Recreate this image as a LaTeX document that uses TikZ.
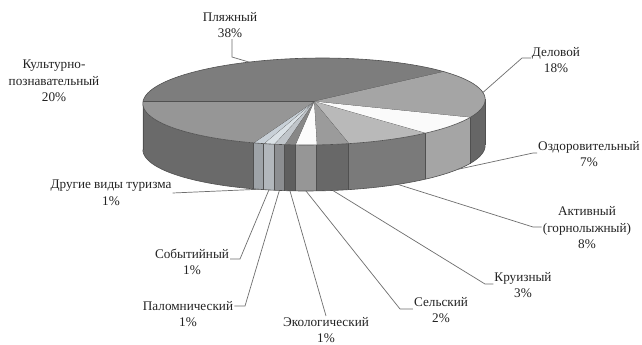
\documentclass[tikz,border=0pt]{standalone}
\usepackage{tikz}
\usepackage{fontspec}
\setmainfont{Liberation Serif}
\pgfmathdeclarefunction{px}{1}{\pgfmathparse{314+171*cos(#1)+8*sin(#1)}}
\pgfmathdeclarefunction{py}{1}{\pgfmathparse{-101.5+43.5*sin(#1)}}
\def\dep{46}
% slice colours
\definecolor{tPl}{RGB}{125,125,125}
\definecolor{tDe}{RGB}{165,165,165}
\definecolor{tOz}{RGB}{250,250,250}
\definecolor{tAk}{RGB}{185,185,185}
\definecolor{tKr}{RGB}{155,155,155}
\definecolor{tSe}{RGB}{252,252,252}
\definecolor{tEk}{RGB}{135,135,135}
\definecolor{tPa}{RGB}{192,197,202}
\definecolor{tSo}{RGB}{218,225,230}
\definecolor{tDr}{RGB}{200,208,215}
\definecolor{tKu}{RGB}{150,150,150}
\definecolor{sDe}{RGB}{102,102,102}
\definecolor{sOz}{RGB}{165,165,165}
\definecolor{sAk}{RGB}{122,122,122}
\definecolor{sKr}{RGB}{104,104,104}
\definecolor{sSe}{RGB}{150,150,150}
\definecolor{sEk}{RGB}{95,95,95}
\definecolor{sPa}{RGB}{140,142,145}
\definecolor{sSo}{RGB}{178,183,188}
\definecolor{sDr}{RGB}{158,163,168}
\definecolor{sKu}{RGB}{106,106,106}
\definecolor{edge}{RGB}{80,80,80}
\definecolor{leadc}{RGB}{110,110,110}
\definecolor{txt}{RGB}{35,35,35}
\newcommand{\topslice}[3]{%
  \fill[#3] (314,-101.5) -- plot[domain=#1:#2,samples=40,variable=\q] ({px(\q)},{py(\q)}) -- cycle;
  \draw[pieedge] (314,-101.5) -- ({px(#1)},{py(#1)});}
\newcommand{\sideslice}[3]{%
  \fill[#3] plot[domain=#1:#2,samples=30,variable=\q] ({px(\q)},{py(\q)}) -- plot[domain=#2:#1,samples=30,variable=\q] ({px(\q)},{py(\q)-\dep}) -- cycle;
  \draw[pieedge] ({px(#1)},{py(#1)}) -- ({px(#1)},{py(#1)-\dep});}
\begin{document}
\begin{tikzpicture}[x=1pt,y=1pt,
  pieedge/.style={draw=edge,line width=0.6pt},
  lead/.style={draw=leadc,line width=0.7pt},
  lab/.style={align=center,text=txt,inner sep=1pt,font=\fontsize{13.2}{16.5}\selectfont}]
\useasboundingbox[fill=white] (0,0) rectangle (642,-345);
% side faces
\sideslice{-177.32}{-108}{sKu}
\sideslice{-108}{-104.4}{sDr}
\sideslice{-104.4}{-100.8}{sSo}
\sideslice{-100.8}{-97.2}{sPa}
\sideslice{-97.2}{-93.6}{sEk}
\sideslice{-93.6}{-86.4}{sSe}
\sideslice{-86.4}{-75.6}{sKr}
\sideslice{-75.6}{-46.8}{sAk}
\sideslice{-46.8}{-21.6}{sOz}
\sideslice{-21.6}{2.68}{sDe}
\draw[pieedge] ({px(2.68)},{py(2.68)}) -- ({px(2.68)},{py(2.68)-\dep});
\draw[pieedge] plot[domain=-177.32:2.68,samples=80,variable=\q] ({px(\q)},{py(\q)-\dep});
% top faces
\topslice{43.2}{180}{tPl}
\topslice{-21.6}{43.2}{tDe}
\topslice{-46.8}{-21.6}{tOz}
\topslice{-75.6}{-46.8}{tAk}
\topslice{-86.4}{-75.6}{tKr}
\topslice{-93.6}{-86.4}{tSe}
\topslice{-97.2}{-93.6}{tEk}
\topslice{-100.8}{-97.2}{tPa}
\topslice{-104.4}{-100.8}{tSo}
\topslice{-108}{-104.4}{tDr}
\topslice{-180}{-108}{tKu}
\draw[pieedge] plot[domain=0:360,samples=120,variable=\q] ({px(\q)},{py(\q)});
% labels
\node[lab] (lP) at (230,-25) {Пляжный\\38\%};
\node[lab] (lK) at (54,-81) {Культурно-\\познавательный\\20\%};
\node[lab] (lD) at (556,-60) {Деловой\\18\%};
\node[lab] (lO) at (589,-154) {Оздоровительный\\7\%};
\node[lab] (lA) at (587,-228) {Активный\\(горнолыжный)\\8\%};
\node[lab] (lKr) at (523,-285) {Круизный\\3\%};
\node[lab] (lS) at (441,-310) {Сельский\\2\%};
\node[lab] (lE) at (326,-330) {Экологический\\1\%};
\node[lab] (lPa) at (188,-314) {Паломнический\\1\%};
\node[lab] (lSo) at (192,-262) {Событийный\\1\%};
\node[lab] (lDr) at (111,-193) {Другие виды туризма\\1\%};
% leader anchor points
\coordinate (sP) at ({px(115)},{py(115)});
\coordinate (eP) at (232,-57);
\coordinate (sD) at ({px(12)},{py(12)});
\coordinate (eD) at (522,-58);
\coordinate (sO) at ({px(-30)},{py(-30)-\dep});
\coordinate (eO) at (533,-153);
\coordinate (sA) at ({px(-58)},{py(-58)-\dep});
\coordinate (eA) at (533,-227);
\coordinate (sKr) at ({px(-81)},{py(-81)-\dep});
\coordinate (eKr) at (485,-284);
\coordinate (sS) at ({px(-90)},{py(-90)-\dep});
\coordinate (eS) at (400,-309);
\coordinate (sE) at ({px(-95.4)},{py(-95.4)-\dep});
\coordinate (sPa) at ({px(-99)},{py(-99)-\dep});
\coordinate (ePa) at (245,-306);
\coordinate (sSo) at ({px(-102.6)},{py(-102.6)-\dep});
\coordinate (eSo) at (240,-259);
\coordinate (sDr) at ({px(-106.2)},{py(-106.2)-\dep});
% leaders
\draw[lead] (sP) -- (eP) -- (eP |- lP.south);
\draw[lead] (sD) -- (eD) -- (eD -| lD.west);
\draw[lead] (sO) -- (eO) -- (eO -| lO.west);
\draw[lead] (sA) -- (eA) -- (eA -| lA.west);
\draw[lead] (sKr) -- (eKr) -- (eKr -| lKr.west);
\draw[lead] (sS) -- (eS) -- (eS -| lS.west);
\draw[lead] (sE) -- (lE.north);
\draw[lead] (sPa) -- (ePa) -- (ePa -| lPa.east);
\draw[lead] (sSo) -- (eSo) -- (eSo -| lSo.east);
\draw[lead] (sDr) -- (lDr.east);
\end{tikzpicture}
\end{document}
